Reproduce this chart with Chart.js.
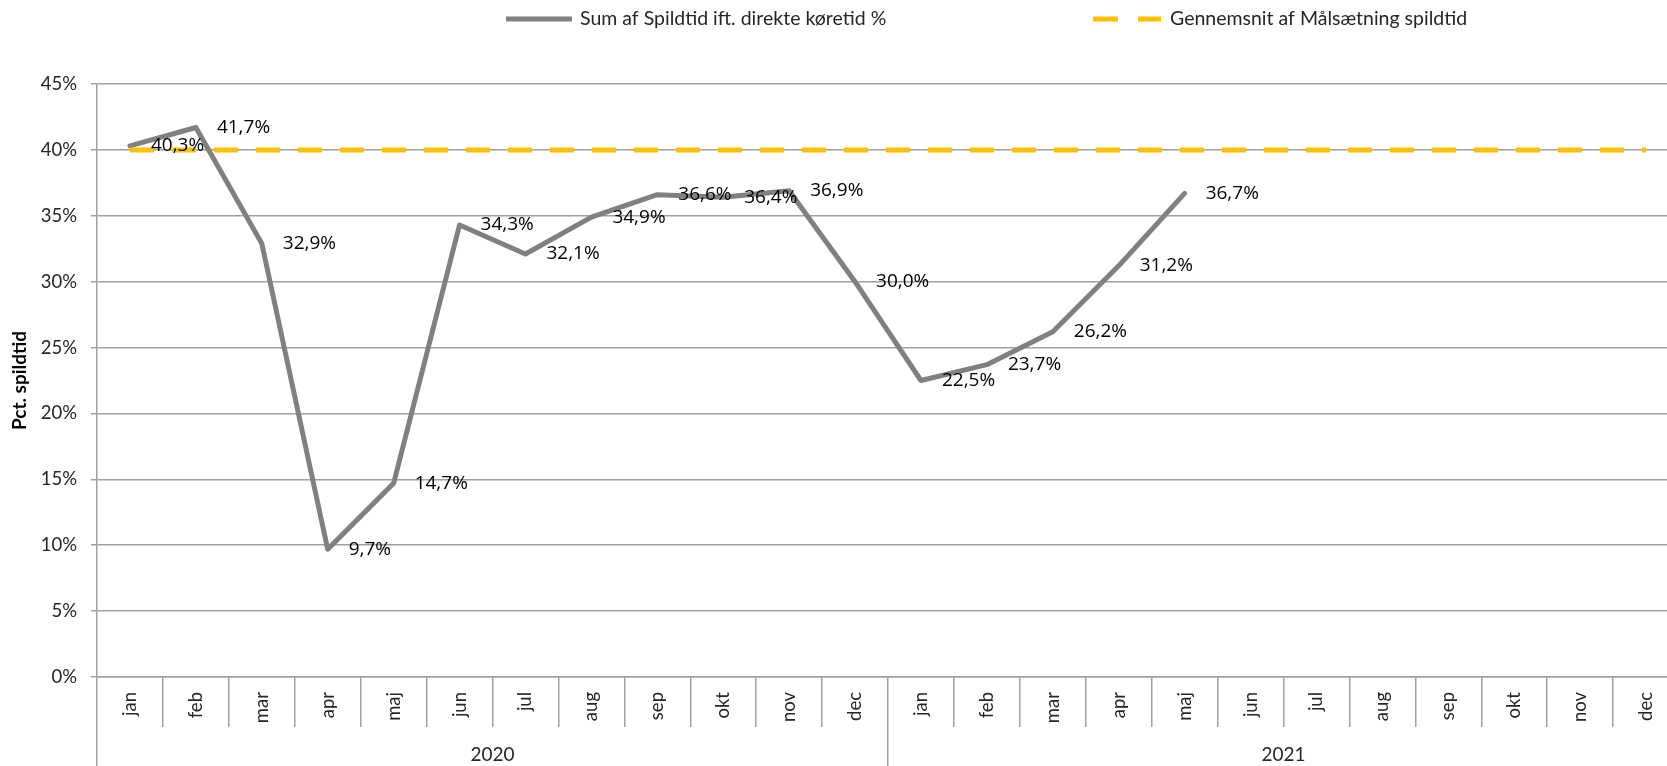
<!DOCTYPE html>
<html>
<head>
<meta charset="utf-8">
<script src="https://cdn.jsdelivr.net/npm/chart.js@4/dist/chart.umd.min.js"></script>
<style>
  html, body { margin: 0; padding: 0; background: #fff; overflow: hidden; }
  #wrap { position: relative; width: 1700px; height: 766px; }
</style>
</head>
<body>
<div id="wrap"><canvas id="c"></canvas></div>
<script>
// ---- data ----
const months = ['jan','feb','mar','apr','maj','jun','jul','aug','sep','okt','nov','dec'];
const years = ['2020','2021'];
const spildtid2020 = [40.3, 41.7, 32.9, 9.7, 14.7, 34.3, 32.1, 34.9, 36.6, 36.4, 36.9, 30.0];
const spildtid2021 = [22.5, 23.7, 26.2, 31.2, 36.7, null, null, null, null, null, null, null];
const maal2020 = [40, 40, 40, 40, 40, 40, 40, 40, 40, 40, 40, 40];
const maal2021 = [40, 40, 40, 40, 40, 40, 40, 40, 40, 40, 40, 40];
const seriesNames = ['Sum af Spildtid ift. direkte køretid %', 'Gennemsnit af Målsætning spildtid'];
const yTitle = 'Pct. spildtid';

const categories = years.flatMap(() => months);
const spildtid = spildtid2020.concat(spildtid2021);
const maal = maal2020.concat(maal2021);

const GRAY = '#808080';
const YELLOW = '#FFC000';
const GRID = '#a0a0a0';
const TXT = '#262626';

const dataLabels = {
  id: 'dataLabels',
  afterDatasetsDraw(chart) {
    const ctx = chart.ctx;
    const meta = chart.getDatasetMeta(0);
    const vals = chart.data.datasets[0].data;
    ctx.save();
    ctx.font = '19px "Open Sans"';
    ctx.fillStyle = '#000';
    ctx.textAlign = 'left';
    ctx.textBaseline = 'middle';
    meta.data.forEach((pt, i) => {
      const v = vals[i];
      if (v === null || v === undefined) return;
      ctx.fillText(v.toFixed(1).replace('.', ',') + '%', pt.x + 21, pt.y);
    });
    ctx.restore();
  }
};

const legendPlugin = {
  id: 'customLegend',
  afterDraw(chart) {
    const ctx = chart.ctx;
    const ds = chart.data.datasets;
    const y = 19;
    ctx.save();
    ctx.lineCap = 'butt';
    ctx.strokeStyle = ds[0].borderColor;
    ctx.lineWidth = 5;
    ctx.setLineDash([]);
    ctx.beginPath(); ctx.moveTo(506, y); ctx.lineTo(572, y); ctx.stroke();
    ctx.strokeStyle = ds[1].borderColor;
    ctx.setLineDash([25, 20]);
    ctx.beginPath(); ctx.moveTo(1093, y); ctx.lineTo(1161, y); ctx.stroke();
    ctx.setLineDash([]);
    ctx.font = '19.5px Lato';
    ctx.fillStyle = TXT;
    ctx.textAlign = 'left';
    ctx.textBaseline = 'middle';
    ctx.fillText(ds[0].label, 580, y);
    ctx.fillText(ds[1].label, 1170, y);
    ctx.restore();
  }
};

new Chart(document.getElementById('c'), {
  type: 'line',
  data: {
    labels: categories,
    datasets: [
      {
        label: seriesNames[0],
        data: spildtid,
        borderColor: GRAY,
        backgroundColor: GRAY,
        borderWidth: 5,
        pointRadius: 0,
        tension: 0,
        borderJoinStyle: 'round',
        borderCapStyle: 'round',
        spanGaps: false,
        order: 2
      },
      {
        label: seriesNames[1],
        data: maal,
        borderColor: YELLOW,
        backgroundColor: YELLOW,
        borderWidth: 5,
        borderDash: [24, 18],
        borderCapStyle: 'butt',
        pointRadius: 0,
        tension: 0,
        order: 1
      }
    ]
  },
  options: {
    responsive: true,
    maintainAspectRatio: false,
    animation: false,
    events: [],
    layout: { padding: { top: 84, right: 21, bottom: 0, left: 0 } },
    plugins: {
      legend: { display: false },
      tooltip: { enabled: false },
      title: { display: false }
    },
    scales: {
      x: {
        type: 'category',
        position: 'bottom',
        weight: 0,
        offset: true,
        grid: {
          display: true,
          offset: true,
          drawOnChartArea: false,
          drawTicks: true,
          tickLength: 50,
          color: GRID,
          lineWidth: 1.5
        },
        border: { display: true, color: GRID, width: 1.5 },
        ticks: {
          autoSkip: false,
          minRotation: 90,
          maxRotation: 90,
          padding: -35,
          color: TXT,
          font: { family: 'Lato', size: 18.5 }
        },
        afterFit(scale) { scale.height = 50; }
      },
      x2: {
        type: 'category',
        position: 'bottom',
        weight: 1,
        labels: years,
        offset: true,
        grid: {
          display: true,
          offset: true,
          drawOnChartArea: false,
          drawTicks: true,
          tickLength: 39,
          color: GRID,
          lineWidth: 1.5
        },
        border: { display: false },
        ticks: {
          autoSkip: false,
          maxRotation: 0,
          padding: -22.4,
          color: TXT,
          font: { family: 'Lato', size: 19 }
        },
        afterFit(scale) { scale.height = 39; }
      },
      y: {
        min: 0,
        max: 45,
        grid: {
          color: GRID,
          lineWidth: 1.5,
          drawTicks: true,
          tickLength: 6
        },
        border: { display: true, color: GRID, width: 1.5 },
        ticks: {
          stepSize: 5,
          padding: 14,
          color: TXT,
          font: { family: 'Lato', size: 18.5 },
          callback: (v) => v + '%'
        },
        title: {
          display: true,
          text: yTitle,
          color: '#000',
          font: { family: 'Lato', size: 19, weight: 'bold' },
          padding: { top: 8, bottom: 0 }
        },
        afterFit(scale) { scale.width = 97; }
      }
    }
  },
  plugins: [dataLabels, legendPlugin]
});
</script>
</body>
</html>
